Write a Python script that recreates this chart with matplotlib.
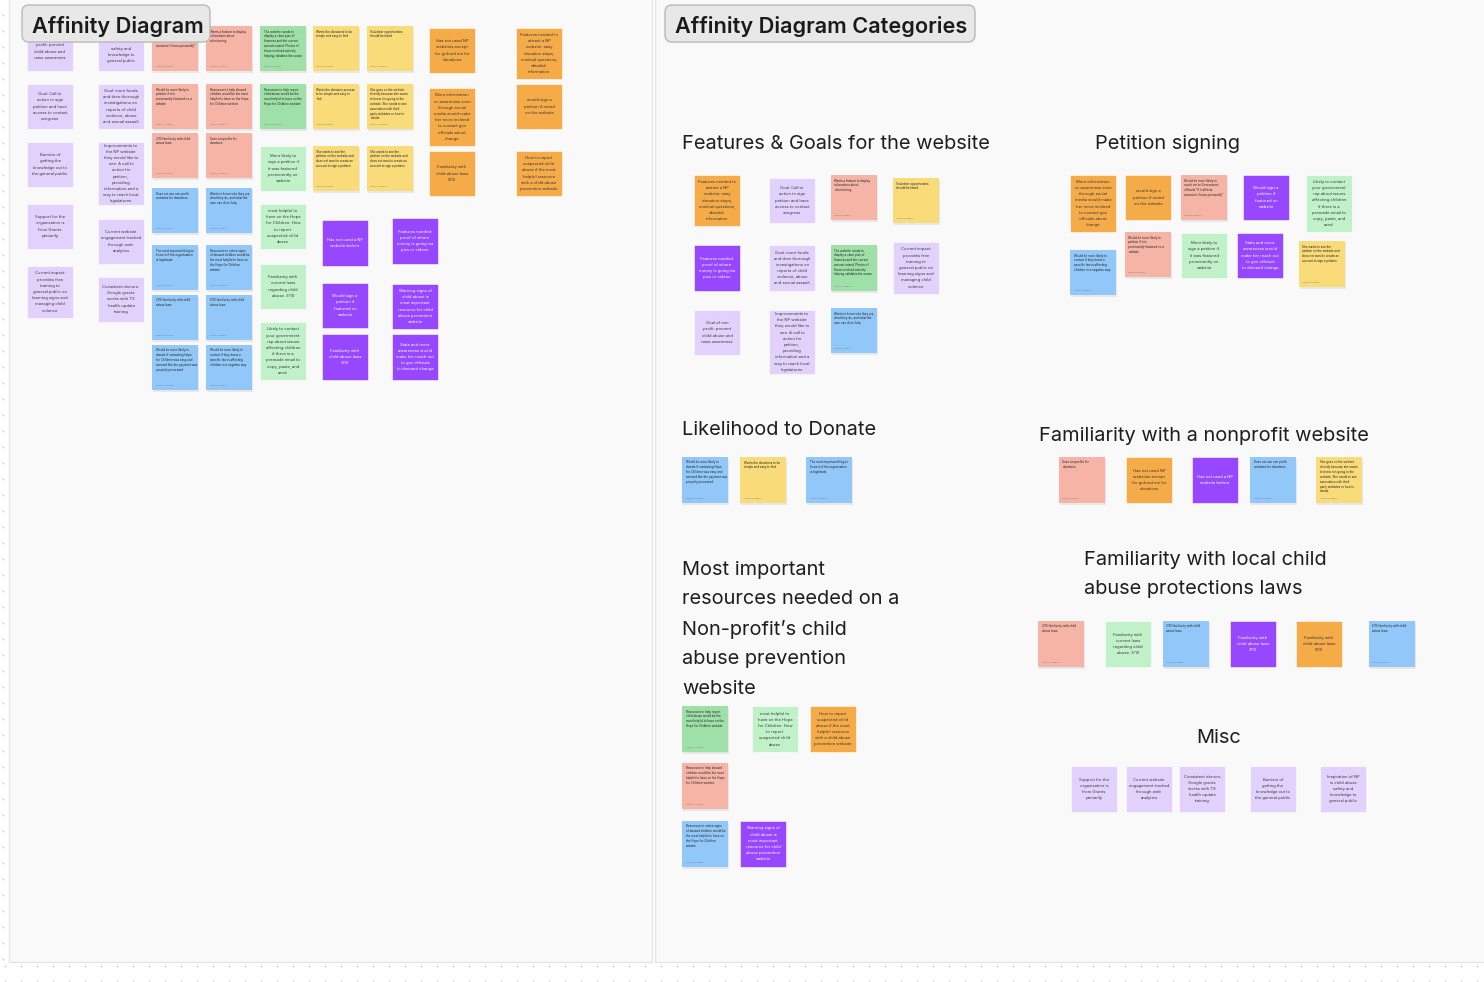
import textwrap
import matplotlib.pyplot as plt
from matplotlib.patches import Rectangle, FancyBboxPatch

plt.rcParams['font.family'] = ['Inter', 'DejaVu Sans']

W, H = 1484, 982

COLORS = {
    'lp': '#e2d1fc', 'pu': '#9747ff', 'or': '#f4ab48', 'lg': '#c0f1c9',
    'sa': '#f6b4a7', 'bl': '#92c7f9', 'ye': '#fadb7a', 'gr': '#9fe0a8',
}
TYPED = {'lp', 'pu', 'or', 'lg'}
AUTHOR = 'Cameron Shapiro'

# ---- left board: raw stickies ----
raw_purple_light = [
    ('lp', 'Goal of non profit: prevent child abuse and raise awareness'),
    ('lp', 'Goal: Call to action to sign petition and have access to contact congress'),
    ('lp', 'Barriers of getting the knowledge out to the general public'),
    ('lp', 'Support for the organization is from Grants primarily'),
    ('lp', 'Current impact: provides free training to general public on learning signs and managing child violence'),
    ('lp', 'Inspiration of NP is child abuse safety and knowledge to general public'),
    ('lp', 'Goal: more funds and then thorough investigations on reports of child violence, abuse and sexual assault'),
    ('lp', 'Improvements to the NP website they would like to see: A call to action for petition, providing information and a way to reach local legislatures'),
    ('lp', 'Current website engagement tracked through web analytics'),
    ('lp', 'Consistent donors: Google grants works with TX health update training'),
]
raw_salmon_blue = [
    ('sa', 'Would be more likely to reach out to Government officials "if it affects someone I know personally"'),
    ('sa', 'Would be more likely to petition if it is prominently featured on a website'),
    ('sa', '2/10 familiarity with child abuse laws'),
    ('bl', 'Does not use non profit websites for donations'),
    ('bl', 'The most important thing to know is if the organization is legitimate'),
    ('bl', '2/10 familiarity with child abuse laws'),
    ('bl', 'Would be more likely to donate if contacting Hope for Children was easy and seemed like the payment was properly processed'),
    ('sa', 'Wants a feature to display information about volunteering'),
    ('sa', 'Resources to help abused children would be the most helpful to have on the Hope for Children website'),
    ('sa', 'Uses nonprofits for donations'),
    ('bl', 'Wants to know who they are, what they do, and what the user can do to help'),
    ('bl', 'Resources to notice signs of abused children would be the most helpful to have on the Hope for Children website'),
    ('bl', '6/10 familiarity with child abuse laws'),
    ('bl', 'Would be more likely to contact if they knew a specific law is affecting children in a negative way'),
]
raw_green_yellow = [
    ('gr', 'The website needs to display a clear plan of finances and the current amount raised. Photos of those involved actively helping validates the cause'),
    ('gr', 'Resources to help report child abuse would be the most helpful to have on the Hope for Children website'),
    ('lg', 'More likely to sign a petition if it was featured prominently on website'),
    ('lg', 'most helpful to have on the Hope for Children: How to report suspected child abuse'),
    ('lg', 'Familiarity with current laws regarding child abuse. 3/10'),
    ('lg', 'Likely to contact your government rep about issues affecting children if there is a premade email to copy, paste, and send'),
    ('ye', 'Wants the donations to be simple and easy to find'),
    ('ye', 'Wants the donation process to be simple and easy to find'),
    ('ye', 'She wants to see the petition on the website and does not want to create an account to sign a petition'),
    ('ye', 'Volunteer opportunities should be listed'),
    ('ye', 'She goes on the website directly because she wants to know it is going to the website. She needs to see association with third party websites or how to donate'),
    ('ye', 'She wants to see the petition on the website and does not want to create an account to sign a petition'),
]
raw_purple_orange = [
    ('pu', 'Has not used a NP website before'),
    ('pu', 'Would sign a petition if featured on website'),
    ('pu', 'Familiarity with child abuse laws 3/10'),
    ('pu', 'Features needed: proof of where money is going via pics or videos'),
    ('pu', 'Warning signs of child abuse is most important resource for child abuse prevention website'),
    ('pu', 'Stats and more awareness would make her reach out to gov officials to demand change'),
    ('or', 'Has not used NP websites except for gofund me for donations'),
    ('or', 'More information or awareness even through social media would make her more inclined to contact gov officials about change'),
    ('or', 'Familiarity with child abuse laws 6/10'),
    ('or', 'Features needed to attract a NP website: easy donation steps, minimal questions, detailed information'),
    ('or', 'would sign a petition if noted on the website'),
    ('or', 'How to report suspected child abuse if the most helpful resource with a child abuse prevention website'),
]

# ---- right board: categories ----
cat_titles = [
    'Features & Goals for the website',
    'Petition signing',
    'Likelihood to Donate',
    'Familiarity with a nonprofit website',
    'Most important\nresources needed on a\nNon-profit\u2019s child\nabuse prevention\nwebsite',
    'Familiarity with local child\nabuse protections laws',
    'Misc',
]
features_goals = [
    raw_purple_orange[9], raw_purple_orange[3], raw_purple_light[0],
    raw_purple_light[1], raw_purple_light[6], raw_purple_light[7],
    raw_salmon_blue[7], raw_green_yellow[0], raw_salmon_blue[10],
    raw_green_yellow[9], raw_purple_light[4],
]
petition_signing = [
    raw_purple_orange[7], raw_salmon_blue[13], raw_purple_orange[10],
    raw_salmon_blue[1], raw_salmon_blue[0], raw_green_yellow[2],
    raw_purple_orange[1], raw_purple_orange[5], raw_green_yellow[5],
    raw_green_yellow[8],
]
likely_donate = [raw_salmon_blue[6], raw_green_yellow[6], raw_salmon_blue[4]]
nonprofit_site = [
    raw_salmon_blue[9], raw_purple_orange[6], raw_purple_orange[0],
    raw_salmon_blue[3], raw_green_yellow[10],
]
important_resources = [
    raw_green_yellow[1], raw_green_yellow[3], raw_purple_orange[11],
    raw_salmon_blue[8], raw_salmon_blue[11], raw_purple_orange[4],
]
local_laws = [
    raw_salmon_blue[2], raw_green_yellow[4], raw_salmon_blue[5],
    raw_purple_orange[2], raw_purple_orange[8], raw_salmon_blue[12],
]
misc = [raw_purple_light[3], raw_purple_light[8], raw_purple_light[9],
        raw_purple_light[2], raw_purple_light[5]]

# ---- layout (x, y, height) of each sticky, in canvas pixels ----
lay_purple_light = [(27, 26, 45), (27, 84, 45), (27, 142, 45), (27, 204, 45), (27, 266, 52),
                    (98, 26, 45), (98, 84, 45), (98, 142, 63), (98, 219, 45), (98, 277, 45)]
lay_salmon_blue = [(152, 26, 45), (152, 84, 45), (152, 133, 45), (152, 188, 45),
                   (152, 245, 45), (152, 295, 45), (152, 345, 45),
                   (206, 26, 45), (206, 84, 45), (206, 133, 45), (206, 188, 45),
                   (206, 245, 45), (206, 295, 45), (206, 345, 45)]
lay_green_yellow = [(260, 26, 45), (260, 84, 45), (260, 146, 45), (260, 204, 45),
                    (260, 264, 45), (260, 322, 58),
                    (313, 26, 45), (313, 84, 45), (313, 146, 45),
                    (367, 26, 45), (367, 84, 45), (367, 146, 45)]
lay_purple_orange = [(322, 220, 46), (322, 283, 45), (322, 334, 46),
                     (392, 218, 46), (392, 284, 45), (392, 334, 46),
                     (429, 28, 45), (429, 88, 58), (429, 151, 45),
                     (516, 28, 51), (516, 84, 45), (516, 151, 45)]
lay_features = [(694, 175, 51), (694, 245, 46), (694, 310, 45),
                (769, 178, 45), (769, 245, 46), (769, 310, 64),
                (831, 175, 45), (831, 245, 46), (831, 308, 45),
                (893, 178, 45), (893, 242, 52)]
lay_petition = [(1070, 175, 57), (1070, 250, 45), (1125, 175, 45), (1125, 232, 45),
                (1181, 175, 45), (1181, 233, 45), (1243, 175, 45), (1237, 233, 45),
                (1306, 175, 57), (1299, 241, 46)]
lay_donate = [(682, 457, 46), (740, 457, 46), (806, 457, 46)]
lay_nonprofit = [(1059, 457, 46), (1126, 457, 46), (1192, 457, 46), (1250, 457, 46), (1316, 457, 46)]
lay_resources = [(682, 706, 46), (752, 706, 46), (810, 706, 46),
                 (682, 763, 46), (682, 821, 46), (740, 821, 46)]
lay_laws = [(1038, 621, 46), (1105, 621, 46), (1163, 621, 46),
            (1230, 621, 46), (1296, 621, 46), (1369, 621, 46)]
lay_misc = [(1071, 766, 46), (1126, 766, 46), (1179, 766, 46), (1250, 766, 46), (1320, 766, 46)]
title_pos = [(682, 142), (1095, 142), (682, 428), (1039, 434), (682, 568), (1084, 558), (1196, 736)]
tags = [((22, 188), 'Affinity Diagram'), ((665, 310), 'Affinity Diagram Categories')]
TAG_BOTTOM = 44


def hidden(x, yline):
    # line sits behind one of the name tags
    for (tx, tw), _ in tags:
        if tx <= x <= tx + tw and yline < TAG_BOTTOM:
            return True
    return False


def draw_note(ax, box, note, w=46):
    x, y, h = box
    kind, text = note
    if kind not in TYPED:
        ax.add_patch(Rectangle((x + 0.5, y + 1.5), w, h, facecolor='#000000',
                               alpha=0.07, edgecolor='none', zorder=2))
    ax.add_patch(Rectangle((x, y), w, h, facecolor=COLORS[kind],
                           edgecolor='#ffffff' if kind in TYPED else 'none',
                           linewidth=0.4, zorder=3))
    if kind in TYPED:
        lines = textwrap.wrap(text, 18)
        lh = 6.2
        y0 = y + h / 2 - (len(lines) - 1) * lh / 2
        for i, ln in enumerate(lines):
            yl = y0 + i * lh
            if hidden(x + w / 2, yl):
                continue
            ax.text(x + w / 2, yl, ln, ha='center', va='center', fontsize=2.95, zorder=4,
                    color='white' if kind == 'pu' else '#383838')
    else:
        lines = textwrap.wrap(text, 27)
        lh = 4.8
        for i, ln in enumerate(lines):
            yl = y + 5.5 + i * lh
            if hidden(x + w / 2, yl):
                continue
            ax.text(x + 3.5, yl, ln, ha='left', va='center', fontsize=2.1,
                    color='#222222', zorder=4)
        ax.text(x + 3.5, y + h - 4, AUTHOR, ha='left', va='bottom',
                fontsize=1.5, color='#777777', zorder=4)


fig = plt.figure(figsize=(W / 100, H / 100), dpi=100)
ax = fig.add_axes([0, 0, 1, 1])
ax.set_xlim(0, W)
ax.set_ylim(H, 0)
ax.axis('off')
fig.patch.set_facecolor('white')

# canvas dots
for gy in range(14, 962, 16):
    ax.plot(2.5, gy + 0.5, 'o', ms=1.3, color='#cccccc', mec='none')
for gx in range(4, W, 16):
    ax.plot(gx + 0.5, 966, 'o', ms=1.3, color='#cccccc', mec='none')
    ax.plot(gx + 0.5, 981, 'o', ms=1.3, color='#dddddd', mec='none')

# two sections
ax.add_patch(Rectangle((9, -2), 643, 964, facecolor='#f9f9f9', edgecolor='#e6e6e6', lw=1, zorder=1))
ax.add_patch(Rectangle((655, -2), 840, 964, facecolor='#f9f9f9', edgecolor='#e6e6e6', lw=1, zorder=1))

for notes, boxes in [(raw_purple_light, lay_purple_light), (raw_salmon_blue, lay_salmon_blue),
                     (raw_green_yellow, lay_green_yellow), (raw_purple_orange, lay_purple_orange),
                     (features_goals, lay_features), (petition_signing, lay_petition),
                     (likely_donate, lay_donate), (nonprofit_site, lay_nonprofit),
                     (important_resources, lay_resources), (local_laws, lay_laws),
                     (misc, lay_misc)]:
    for note, box in zip(notes, boxes):
        draw_note(ax, box, note)

# section name tags
for (x, w), label in tags:
    ax.add_patch(FancyBboxPatch((x, 5), w, 37, boxstyle='round,pad=0,rounding_size=7',
                                facecolor='#e8e8e8', edgecolor='#b9b9b9', lw=1, zorder=5))
    ax.text(x + 10, 26, label, ha='left', va='center', fontsize=15.6, fontweight='semibold',
            color='#1a1a1a', zorder=6)

# category headings
for (x, y), t in zip(title_pos, cat_titles):
    ax.text(x, y - 7, t, ha='left', va='top', fontsize=14.4, linespacing=1.8,
            color='#1e1e1e', zorder=6)

fig.savefig('out.png', dpi=100, facecolor='white')
